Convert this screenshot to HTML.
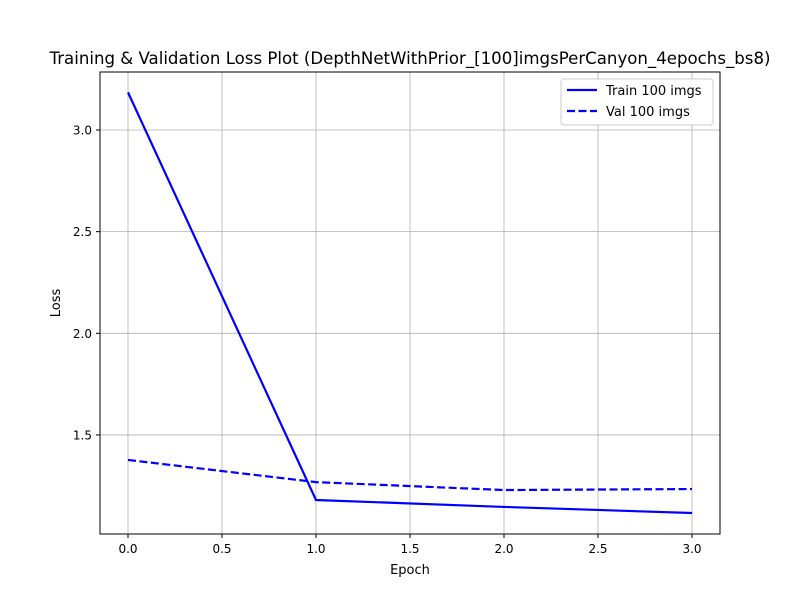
<!DOCTYPE html>
<html><head><meta charset="utf-8"><style>
body{margin:0;background:#fff}
svg text{font-family:"DejaVu Sans","Liberation Sans",sans-serif;fill:#000}
</style></head><body>
<svg id="chart" width="800" height="600">
<rect width="800" height="600" fill="#fff"/>
<text x="410" y="64" text-anchor="middle" font-size="16.6">Training &amp; Validation Loss Plot (DepthNetWithPrior_[100]imgsPerCanyon_4epochs_bs8)</text>
<g id="grid"></g><g id="ticks"></g><g id="lines"></g>
<rect x="100" y="72" width="620" height="462" fill="none" stroke="#000" stroke-width="1"/>
<text x="410" y="574" text-anchor="middle" font-size="13">Epoch</text>
<text transform="translate(60,303) rotate(-90)" text-anchor="middle" font-size="13">Loss</text>
<g>
<rect x="561" y="79" width="152" height="46" fill="#fff" stroke="#ccc" rx="3"/>
<line x1="567" y1="90" x2="597" y2="90" stroke="#0000ff" stroke-width="2.2"/>
<text x="606" y="95" font-size="13">Train 100 imgs</text>
<line x1="567" y1="111" x2="597" y2="111" stroke="#0000ff" stroke-width="2.2" stroke-dasharray="8,3.5"/>
<text x="606" y="116" font-size="13">Val 100 imgs</text>
</g>
</svg>
<script>
const epochs=[0,1,2,3];
const trainLoss=[3.185,1.18,1.146,1.116];
const valLoss=[1.377,1.268,1.229,1.234];
const xTicks=[0,0.5,1,1.5,2,2.5,3];
const xTickLabels=["0.0","0.5","1.0","1.5","2.0","2.5","3.0"];
const yTicks=[1.5,2,2.5,3];
const yTickLabels=["1.5","2.0","2.5","3.0"];
const X=v=>128+v*188;
const Y=v=>130+(3-v)*203.3;
const NS="http://www.w3.org/2000/svg";
function mk(tag,attrs,parent){const e=document.createElementNS(NS,tag);for(const k in attrs)e.setAttribute(k,attrs[k]);document.getElementById(parent).appendChild(e);return e;}
xTicks.forEach((t,i)=>{
 const g=mk("line",{x1:X(t),x2:X(t),y1:72,y2:534,stroke:"#b0b0b0","stroke-width":0.8},"grid");
 
 
 const tk=mk("line",{x1:X(t),x2:X(t),y1:534,y2:538,stroke:"#000"},"ticks");
 
 
 const tx=mk("text",{x:X(t),y:553,"text-anchor":"middle","font-size":"12"},"ticks");
 tx.textContent=xTickLabels[i];
 
 
});
yTicks.forEach((t,i)=>{
 const g=mk("line",{x1:100,x2:720,y1:Y(t),y2:Y(t),stroke:"#b0b0b0","stroke-width":0.8},"grid");
 
 
 const tk=mk("line",{x1:96,x2:100,y1:Y(t),y2:Y(t),stroke:"#000"},"ticks");
 
 
 const tx=mk("text",{x:92,y:Y(t)+4.5,"text-anchor":"end","font-size":"12"},"ticks");
 tx.textContent=yTickLabels[i];
 
 
});
const tr=mk("polyline",{points:epochs.map((e,i)=>X(e)+","+Y(trainLoss[i])).join(" "),fill:"none",stroke:"#0000ff","stroke-width":2.2},"lines");


const vl=mk("polyline",{points:epochs.map((e,i)=>X(e)+","+Y(valLoss[i])).join(" "),fill:"none",stroke:"#0000ff","stroke-width":2.2,"stroke-dasharray":"8,3.5"},"lines");


</script>
</body></html>
